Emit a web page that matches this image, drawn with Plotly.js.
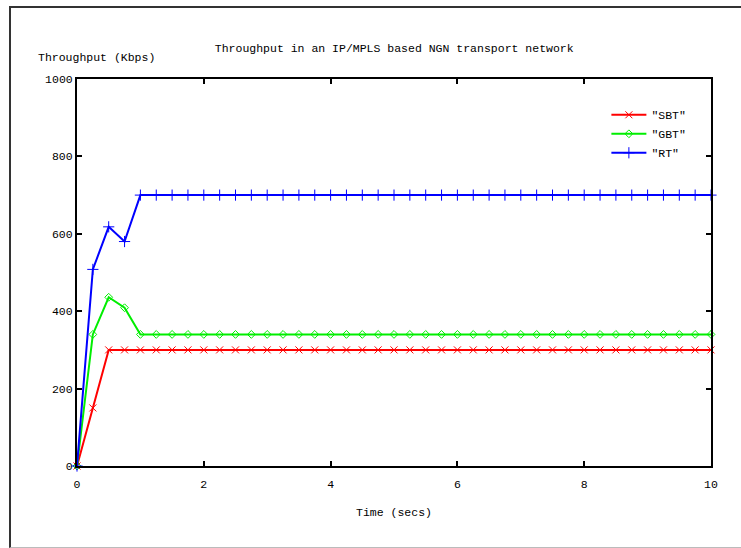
<!DOCTYPE html>
<html>
<head>
<meta charset="utf-8">
<script src="https://cdn.plot.ly/plotly-3.0.1.min.js"></script>
<style>
  html, body { margin: 0; padding: 0; background: #fff; }
  #chart { width: 741px; height: 548px; position: absolute; left: 0; top: 0; }
  #frame { position: absolute; left: 9px; top: 6px; width: 740px; height: 539px;
           border-left: 2px solid #333; border-top: 2px solid #333; border-bottom: 1px solid #bbb;
           pointer-events: none; }
</style>
</head>
<body>
<div id="chart"></div>
<div id="frame"></div>
<script>
const timeSecs = [0, 0.25, 0.5, 0.75, 1, 1.25, 1.5, 1.75, 2, 2.25, 2.5, 2.75, 3, 3.25, 3.5, 3.75,
  4, 4.25, 4.5, 4.75, 5, 5.25, 5.5, 5.75, 6, 6.25, 6.5, 6.75, 7, 7.25, 7.5, 7.75,
  8, 8.25, 8.5, 8.75, 9, 9.25, 9.5, 9.75, 10];
const sbt = [0, 150, 300, 300, 300, 300, 300, 300, 300, 300, 300, 300, 300, 300, 300, 300,
  300, 300, 300, 300, 300, 300, 300, 300, 300, 300, 300, 300, 300, 300, 300, 300,
  300, 300, 300, 300, 300, 300, 300, 300, 300];
const gbt = [0, 340, 436, 409, 340, 340, 340, 340, 340, 340, 340, 340, 340, 340, 340, 340,
  340, 340, 340, 340, 340, 340, 340, 340, 340, 340, 340, 340, 340, 340, 340, 340,
  340, 340, 340, 340, 340, 340, 340, 340, 340];
const rt = [0, 508, 618, 580, 700, 700, 700, 700, 700, 700, 700, 700, 700, 700, 700, 700,
  700, 700, 700, 700, 700, 700, 700, 700, 700, 700, 700, 700, 700, 700, 700, 700,
  700, 700, 700, 700, 700, 700, 700, 700, 700];
const seriesNames = ['"SBT"', '"GBT"', '"RT"'];
const xTicks = [0, 2, 4, 6, 8, 10];
const yTicks = [0, 200, 400, 600, 800, 1000];

const FONT = '"Liberation Mono", "DejaVu Sans Mono", monospace';
const FS = 11.5;

function tr(y, name, color, symbol, size) {
  return {
    x: timeSecs, y: y, name: name, type: 'scatter', mode: 'lines+markers',
    line: { color: color, width: 2 },
    marker: { symbol: symbol, size: size, color: color, line: { color: color, width: 1 } },
    cliponaxis: false
  };
}

const data = [
  tr(sbt, seriesNames[0], '#ff0000', 'x-thin-open', 7),
  tr(gbt, seriesNames[1], '#00ee00', 'diamond-open', 6),
  tr(rt, seriesNames[2], '#0000ff', 'cross-thin-open', 8)
];

const layout = {
  width: 741, height: 548, autosize: false,
  margin: { l: 77, r: 30, t: 79, b: 82 },
  paper_bgcolor: '#fff', plot_bgcolor: '#fff',
  font: { family: FONT, size: FS, color: '#000' },
  title: { text: 'Throughput in an IP/MPLS based NGN transport network',
           x: 0.532, xanchor: 'center', y: 1 - 48/548, yanchor: 'middle', yref: 'container',
           font: { family: FONT, size: FS, color: '#000' } },
  showlegend: true,
  legend: { x: 0.835, xanchor: 'left', y: 0.945, yanchor: 'top', bgcolor: 'rgba(0,0,0,0)',
            font: { family: FONT, size: FS }, itemwidth: 35, tracegroupgap: 0 },
  xaxis: {
    range: [0, 10], tickvals: xTicks, ticktext: xTicks.map(String),
    showgrid: false, zeroline: false, showline: true, linecolor: '#000', linewidth: 2,
    mirror: 'ticks', ticks: 'inside', ticklen: 5, tickwidth: 2, tickcolor: '#000',
    ticklabelstandoff: 6,
    title: { text: 'Time (secs)', standoff: 18, font: { family: FONT, size: FS } }
  },
  yaxis: {
    range: [0, 1000], tickvals: yTicks, ticktext: yTicks.map(String),
    showgrid: false, zeroline: false, showline: true, linecolor: '#000', linewidth: 2,
    mirror: 'ticks', ticks: 'inside', ticklen: 5, tickwidth: 2, tickcolor: '#000'
  },
  annotations: [{
    text: 'Throughput (Kbps)', xref: 'paper', yref: 'paper',
    x: (36 - 77) / 634, xanchor: 'left', y: (466 - 57) / 387, yanchor: 'middle',
    showarrow: false, font: { family: FONT, size: FS, color: '#000' }
  }]
};

Plotly.newPlot('chart', data, layout, { displayModeBar: false, staticPlot: true });
</script>
</body>
</html>
